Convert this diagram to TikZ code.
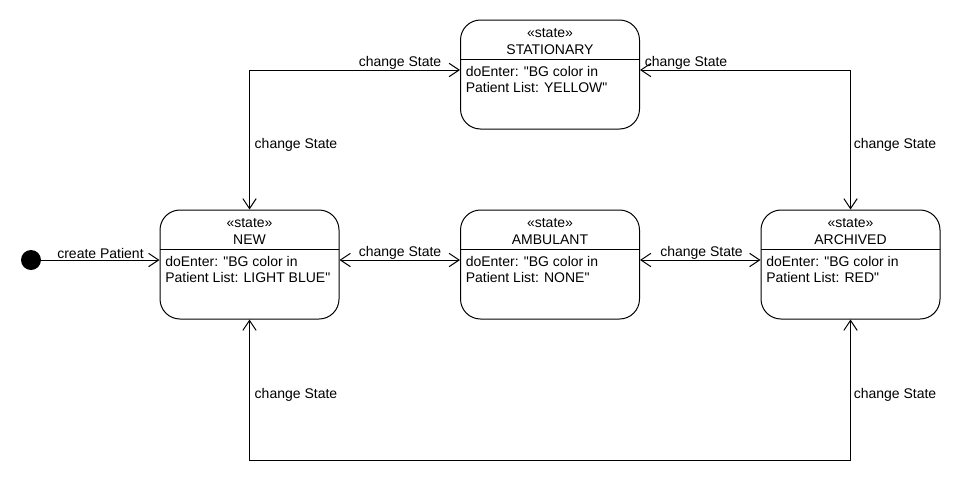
\documentclass[tikz,border=0pt]{standalone}
\usepackage{fontspec}
\setmainfont{Liberation Sans}[Ligatures=TeXOff]
\usetikzlibrary{arrows.meta}
\begin{document}
\begin{tikzpicture}[x=0.75pt,y=-0.75pt,
  statebox/.style={draw, rounded corners=15pt, minimum width=134.25pt, minimum height=81.75pt, inner sep=0pt, line width=0.75pt},
  lbl/.style={font=\fontsize{10.5pt}{12pt}\selectfont, inner sep=0pt},
  barb/.tip={Straight Barb[length=7.5pt,width=10pt,line width=0.75pt]},
  conn/.style={line width=0.75pt, barb-barb},
  conn1/.style={line width=0.75pt, -barb},
  ]
\useasboundingbox (0,0) rectangle (970,500);
\newcommand\stbox[6]{%
  \node[statebox] (#1) at (#2,#3) {};
  \draw[line width=0.75pt] (#2-89.5,#3-15.5) -- (#2+89.5,#3-15.5);
  \node[lbl] (#1-st) at (#2,#3-41) {«state»};
  \node[lbl] (#1-ti) at (#2,#3-25) {#4};
  \node[lbl,anchor=west] (#1-l1) at (#2-84.5,#3-3) {#5};
  \node[lbl,anchor=west] (#1-l2) at (#2-84.5,#3+13) {#6};
}
\stbox{stat}{550}{74.5}{STATIONARY}{doEnter: "BG color in}{Patient List: YELLOW"}
\stbox{new}{249.5}{264.5}{NEW}{doEnter: "BG color in}{Patient List: LIGHT BLUE"}
\stbox{amb}{550}{264.5}{AMBULANT}{doEnter: "BG color in}{Patient List: NONE"}
\stbox{arch}{850.5}{264.5}{ARCHIVED}{doEnter: "BG color in}{Patient List: RED"}

\node[circle, fill, inner sep=0pt, minimum size=15pt] (init) at (31,260) {};

\coordinate (ytop) at (0,70);
\coordinate (ymid) at (0,260);
\coordinate (ybot) at (0,460);

\draw[conn1] (init) -- (new.west |- ymid);
\draw[conn] (new.east |- ymid) -- (amb.west |- ymid);
\draw[conn] (amb.east |- ymid) -- (arch.west |- ymid);
\draw[conn] (new.north) -- (new.north |- ytop) -- (stat.west |- ytop);
\draw[conn] (arch.north) -- (arch.north |- ytop) -- (stat.east |- ytop);
\draw[conn] (new.south) -- (new.south |- ybot) -- (arch.south |- ybot) -- (arch.south);

\node[lbl] (l0) at (100.5,253) {create Patient};
\node[lbl] (l1) at (400,253) {change State};
\node[lbl] (l2) at (701.5,253) {change State};
\node[lbl] (l3) at (400,63) {change State};
\node[lbl] (l4) at (686,63) {change State};
\node[lbl] (l5) at (296,145) {change State};
\node[lbl] (l6) at (895,145) {change State};
\node[lbl] (l7) at (296,395) {change State};
\node[lbl] (l8) at (895,395) {change State};
\end{tikzpicture}
\end{document}
